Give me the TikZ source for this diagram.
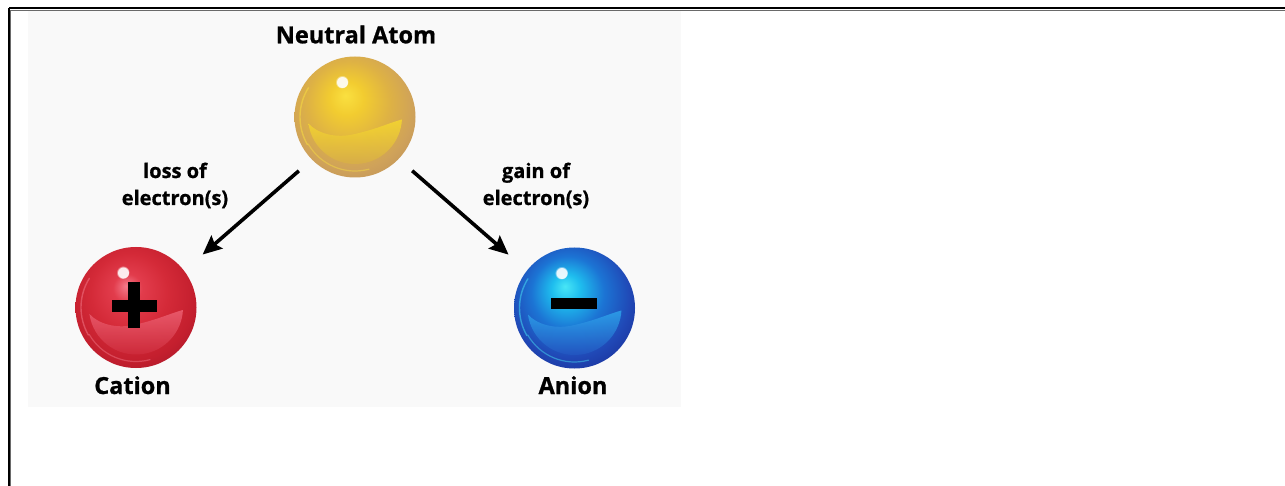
\documentclass[tikz,border=0pt]{standalone}
\usepackage{fontspec}
\setmainfont{Open Sans}[BoldFeatures={FakeBold=0.9}]
\usetikzlibrary{arrows.meta,fadings}

% sphere palettes
\definecolor{gA}{HTML}{FAE040}\definecolor{gB}{HTML}{F2CC30}\definecolor{gC}{HTML}{DEB244}
\definecolor{gD}{HTML}{CFA25A}\definecolor{gE}{HTML}{BF925A}
\definecolor{gL}{HTML}{F8DA2C}\definecolor{gM}{HTML}{D6AC48}
\definecolor{rA}{HTML}{F47C8C}\definecolor{rB}{HTML}{E23C4C}\definecolor{rC}{HTML}{D42A38}
\definecolor{rD}{HTML}{C41F2E}\definecolor{rE}{HTML}{A8182A}
\definecolor{rL}{HTML}{EE6476}\definecolor{rM}{HTML}{CC2838}
\definecolor{bA}{HTML}{48E6F6}\definecolor{bB}{HTML}{1EBDEE}\definecolor{bC}{HTML}{1C74D4}
\definecolor{bD}{HTML}{2048B6}\definecolor{bE}{HTML}{1A2E96}
\definecolor{bL}{HTML}{2EA8EE}\definecolor{bM}{HTML}{2250BE}
\definecolor{panel}{HTML}{F9F9F9}
\definecolor{rule}{HTML}{6A6A6A}

\pgfdeclareradialshading{goldball}{\pgfpoint{-4bp}{9bp}}{color(0bp)=(gA); color(7bp)=(gB); color(17bp)=(gC); color(26bp)=(gD); color(34bp)=(gE); color(50bp)=(gE)}
\pgfdeclareradialshading{redball}{\pgfpoint{-4bp}{9bp}}{color(0bp)=(rA); color(6bp)=(rB); color(16bp)=(rC); color(26bp)=(rD); color(34bp)=(rE); color(50bp)=(rE)}
\pgfdeclareradialshading{blueball}{\pgfpoint{-4bp}{9bp}}{color(0bp)=(bA); color(6bp)=(bB); color(15bp)=(bC); color(25bp)=(bD); color(34bp)=(bE); color(50bp)=(bE)}

% a glossy sphere: name, centre, shading, crescent top colour, crescent bottom colour, rim glint colour
\newcommand\mkball[6]{%
  \node[ballnode] (#1) at #2 {};
  \shade[shading=#3] (#1.center) circle[radius=60.5];
  \begin{scope}[shift={(#1.center)}]
    \shade[top color=#4, bottom color=#5, opacity=.8]
      (172:47) arc[start angle=172, end angle=3, radius=47]
      .. controls (34,6) and (22,12) .. (0,17)
      .. controls (-20,22) and (-38,16) .. cycle;
    \draw[#6, line width=1.4, opacity=.5, line cap=round]
      (212:55) arc[start angle=212, end angle=150, radius=55];
    \draw[#6, line width=1.2, opacity=.45, line cap=round]
      (150:54) arc[start angle=150, end angle=75, radius=54];
    \fill[white, opacity=.9, path fading=circle with fuzzy edge 20 percent] (-13,-35) circle[radius=6.5];
  \end{scope}}

\tikzset{
  ballnode/.style={circle, minimum size=121pt, inner sep=0pt},
  lbl/.style={font=\bfseries\fontsize{20}{27}\selectfont, align=center, anchor=base, inner sep=0pt},
  ttl/.style={font=\bfseries\fontsize{23.5}{28}\selectfont, anchor=base, inner sep=0pt},
  arr/.style={line width=3.6pt, -{Stealth[length=19pt, width=17pt, inset=3pt]}},
}

\begin{document}
\begin{tikzpicture}[x=1pt, y=-1pt]
  \useasboundingbox (0,0) rectangle (1285,486);
  \fill[white] (0,0) rectangle (1285,486);

  % frame edges
  \draw[rule, line width=1pt] (10.5,10.5) -- (1285,10.5);
  \draw[rule, line width=1pt] (10.5,10.5) -- (10.5,486);
  \draw[black, line width=2.6pt] (9,8) -- (1285,8);
  \draw[black, line width=2.6pt] (9,8) -- (9,486);

  % light panel
  \fill[panel] (28,11) rectangle (681,407);

  % spheres
  \mkball{atom}{(355,117)}{goldball}{gL}{gM}{gA}
  \mkball{cation}{(136,307.5)}{redball}{rL}{rM}{rA}
  \mkball{anion}{(574.5,308)}{blueball}{bL}{bM}{bA}

  % charge signs
  \fill[black] (128.3,281.7) rectangle (140,328.3);
  \fill[black] (111.7,300) rectangle (156.7,311.7);
  \fill[black] (551,298) rectangle (597,309);

  % titles
  \node[ttl] (tAtom) at (356,43.3) {Neutral Atom};
  \node[ttl] (tCat) at (132.5,394) {Cation};
  \node[ttl] (tAn) at (573,394) {Anion};

  % arrows
  \draw[arr, shorten <=74.4pt, shorten >=88.3pt]
    ([shift={(0,5)}]atom.center) -- ([shift={(0,5)}]cation.center);
  \draw[arr, shorten <=75.8pt, shorten >=87.4pt]
    ([shift={(0,4)}]atom.center) -- ([shift={(0,4)}]anion.center);

  % arrow labels (base = baseline of the second line)
  \node[lbl] (loss) at (175,205) {loss of\\electron(s)};
  \node[lbl] (gain) at (536,205) {gain of\\electron(s)};
\end{tikzpicture}
\end{document}
